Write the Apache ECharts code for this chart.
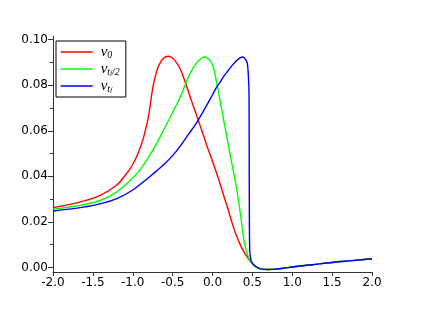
<!DOCTYPE html>
<html>
<head>
<meta charset="utf-8">
<script src="https://cdn.jsdelivr.net/npm/echarts@6/dist/echarts.min.js"></script>
<style>html,body{margin:0;padding:0;background:#fff;}#c{width:425px;height:311px;}</style>
</head>
<body>
<div id="c"></div>
<script>
// ---- data ----
const seriesNames = ['v0', 'vtf2', 'vtf'];
const redX = [-2.0,-1.8,-1.6,-1.4,-1.2,-1.1,-1.0,-0.9,-0.85,-0.8,-0.75,-0.7,-0.65,-0.6,-0.55,-0.5,-0.45,-0.4,-0.35,-0.3,-0.25,-0.2,-0.15,-0.1,-0.05,0.0,0.05,0.1,0.15,0.2,0.25,0.3,0.35,0.4,0.45,0.5,0.55,0.6,0.7,0.8,0.9,1.0,1.25,1.5,1.75,2.0];
const redY = [0.0263,0.0276,0.0293,0.0318,0.0362,0.0402,0.0452,0.0532,0.0590,0.0668,0.0786,0.0862,0.0902,0.0922,0.0927,0.0918,0.0898,0.0868,0.0822,0.0770,0.0718,0.0668,0.0617,0.0565,0.0514,0.0466,0.0415,0.0362,0.0305,0.0250,0.0190,0.0140,0.0098,0.0065,0.0038,0.0017,0.0002,-0.0006,-0.0009,-0.0007,-0.0003,0.0002,0.0012,0.0022,0.0030,0.0038];
const greenX = [-2.0,-1.8,-1.6,-1.4,-1.2,-1.0,-0.9,-0.8,-0.7,-0.6,-0.5,-0.45,-0.4,-0.35,-0.3,-0.25,-0.2,-0.15,-0.1,-0.05,0.0,0.05,0.1,0.15,0.2,0.25,0.3,0.35,0.4,0.45,0.5,0.55,0.6,0.7,0.8,0.9,1.0,1.25,1.5,1.75,2.0];
const greenY = [0.0256,0.0265,0.0277,0.0295,0.0332,0.0393,0.0433,0.0485,0.0545,0.0612,0.0680,0.0715,0.0752,0.0795,0.0838,0.0872,0.0898,0.0915,0.0924,0.0916,0.0890,0.0815,0.0722,0.0628,0.0535,0.0443,0.0352,0.0235,0.0108,0.0045,0.0016,0.0002,-0.0006,-0.0009,-0.0007,-0.0003,0.0002,0.0012,0.0022,0.0030,0.0038];
const blueX = [-2.0,-1.8,-1.6,-1.4,-1.2,-1.0,-0.8,-0.7,-0.6,-0.5,-0.4,-0.3,-0.2,-0.1,0.0,0.05,0.1,0.15,0.2,0.25,0.3,0.35,0.38,0.41,0.435,0.45,0.458,0.46,0.462,0.465,0.47,0.48,0.49,0.52,0.554,0.6,0.7,0.8,0.9,1.0,1.25,1.5,1.75,2.0];
const blueY = [0.0248,0.0256,0.0266,0.0280,0.0302,0.0340,0.0395,0.0424,0.0455,0.0491,0.0535,0.0585,0.0635,0.0695,0.0758,0.0790,0.0816,0.0843,0.0866,0.0888,0.0907,0.0921,0.0924,0.0915,0.0898,0.0840,0.0760,0.0550,0.0250,0.0100,0.0060,0.0038,0.0025,0.0010,0.0002,-0.0006,-0.0009,-0.0007,-0.0003,0.0002,0.0012,0.0022,0.0030,0.0038];
const xTicks = [-2.0,-1.5,-1.0,-0.5,0.0,0.5,1.0,1.5,2.0];
const yTicks = [0.00,0.02,0.04,0.06,0.08,0.10];
const yMinorTicks = [0.01,0.03,0.05,0.07,0.09];

const pairs = (xs, ys) => xs.map((x, i) => [x, ys[i]]);

const legendLabels = {
  v0: '{v|v}{s|0}',
  vtf2: '{v|v}{s|t}{ss|f}{s|/2}',
  vtf: '{v|v}{s|t}{ss|f}'
};

const chart = echarts.init(document.getElementById('c'), null, {renderer: 'canvas'});
const axisColor = '#333';
const font = 'DejaVu Sans';
const mkSeries = (name, data, color) => ({
  name, type: 'line', data, symbol: 'none', smooth: 0.4,
  lineStyle: {color, width: 1.4}, itemStyle: {color}, animation: false
});
chart.setOption({
  animation: false,
  grid: {left: 53, right: 53, top: 36, bottom: 39},
  xAxis: {
    type: 'value', min: -2, max: 2, interval: 0.5,
    axisLine: {onZero: false, lineStyle: {color: axisColor, width: 1}},
    axisTick: {show: true, length: 4, lineStyle: {color: axisColor}},
    splitLine: {show: false},
    axisLabel: {color: '#000', fontFamily: font, fontSize: 12, margin: 5,
      formatter: v => v.toFixed(1)}
  },
  yAxis: [{
    type: 'value', min: -0.002, max: 0.1016,
    axisLine: {show: true, onZero: false, lineStyle: {color: axisColor, width: 1}},
    axisTick: {show: true, length: 5, customValues: yTicks, lineStyle: {color: axisColor}},
    splitLine: {show: false},
    axisLabel: {color: '#000', fontFamily: font, fontSize: 12, margin: 5, customValues: yTicks,
      formatter: v => v.toFixed(2)}
  }, {
    type: 'value', min: -0.002, max: 0.1016, position: 'left',
    axisLine: {show: false, onZero: false},
    axisTick: {show: true, length: 3, customValues: yMinorTicks, lineStyle: {color: axisColor}},
    splitLine: {show: false},
    axisLabel: {show: false}
  }],
  legend: {
    orient: 'vertical', left: 56, top: 41,
    data: seriesNames,
    padding: [3, 6, 3, 4],
    itemGap: 1, itemWidth: 32, itemHeight: 12,
    borderColor: '#000', borderWidth: 1, borderRadius: 0,
    itemStyle: {opacity: 0},
    lineStyle: {width: 1.4},
    formatter: name => legendLabels[name],
    textStyle: {
      rich: {
        v: {fontFamily: 'Liberation Serif', fontStyle: 'italic', fontSize: 15, lineHeight: 16, verticalAlign: 'middle', color: '#000', padding: [0, 0, 0, 3]},
        s: {fontFamily: 'Liberation Serif', fontStyle: 'italic', fontSize: 10, lineHeight: 4, verticalAlign: 'bottom', color: '#000', padding: [6, 0, 0, 0]},
        ss: {fontFamily: 'Liberation Serif', fontStyle: 'italic', fontSize: 7, lineHeight: 2, verticalAlign: 'bottom', color: '#000', padding: [9, 0, 0, 0]}
      }
    }
  },
  series: [
    mkSeries('v0', pairs(redX, redY), '#ff0000'),
    mkSeries('vtf2', pairs(greenX, greenY), '#00ff00'),
    mkSeries('vtf', pairs(blueX, blueY), '#0000ff')
  ]
});
</script>
</body>
</html>
